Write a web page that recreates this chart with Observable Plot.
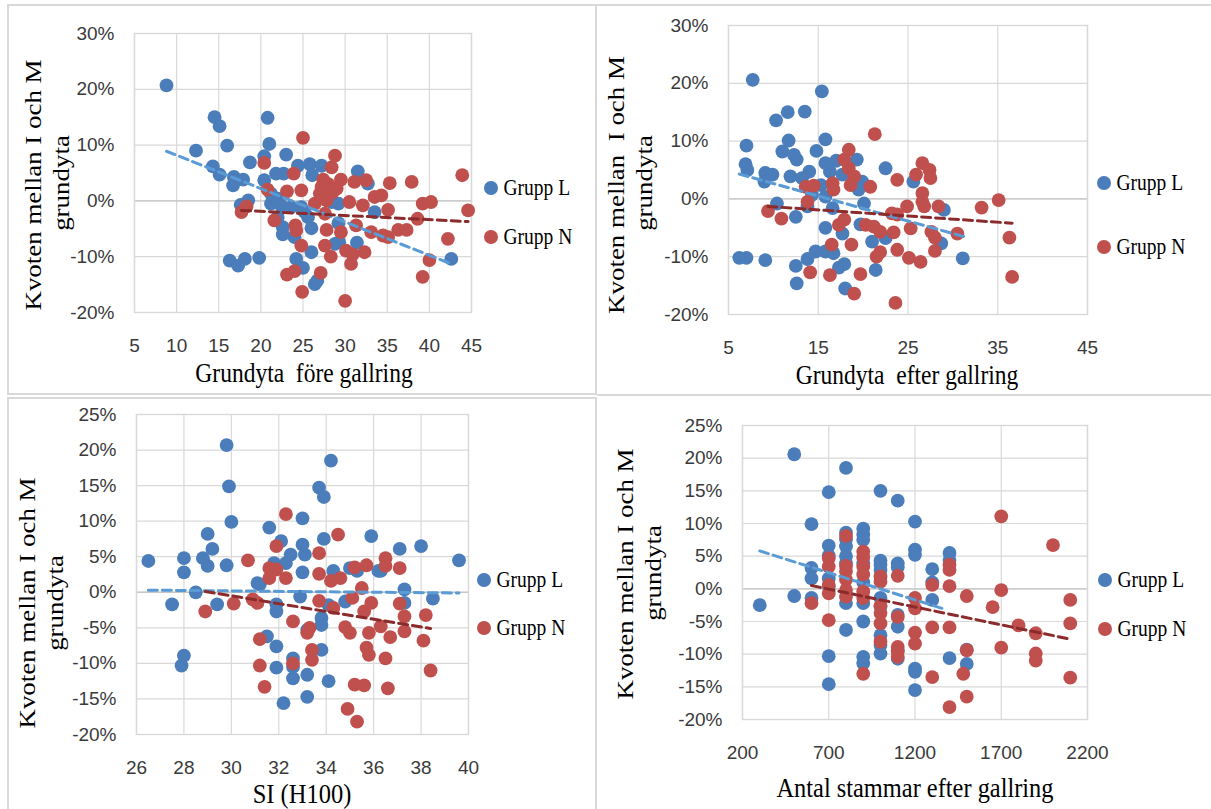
<!DOCTYPE html>
<html>
<head>
<meta charset="utf-8">
<script src="https://cdn.jsdelivr.net/npm/d3@7"></script>
<script src="https://cdn.jsdelivr.net/npm/@observablehq/plot@0.6"></script>
<style>
  body { margin: 0; background: #fff; }
  #root { position: relative; width: 1211px; height: 809px; overflow: hidden; background: #fff; }
  .abs { position: absolute; }
  .serif { font-family: "Liberation Serif", "Times New Roman", serif; color: #000; white-space: pre; line-height: 1; }
  .border { position: absolute; box-sizing: border-box; border: 2px solid #d9d9d9; }
  .hline { position: absolute; height: 2px; background: #d9d9d9; }
</style>
</head>
<body>
<div id="root"></div>
<script>
// ---------- DATA (y in percent) ----------
const seriesNames = ["Grupp L", "Grupp N"];
const yLabelLines = ["Kvoten mellan I och M", "grundyta"];

// Panel 1: Grundyta före gallring
const p1Blue = [[8.8,20.7],[14.5,15.0],[15.1,13.4],[20.8,14.9],[12.3,9.0],[16.0,9.9],[21.0,10.2],[18.7,6.9],[20.4,8.0],[23.0,8.3],
  [14.3,6.2],[15.1,4.7],[16.8,4.3],[17.9,3.8],[16.7,2.8],[20.4,3.7],[21.8,4.9],[22.7,4.9],[24.4,6.3],[25.8,6.6],
  [27.2,6.3],[26.1,4.6],[31.5,5.3],[32.7,3.1],[18.5,0.1],[17.6,-0.7],[21.2,-0.5],[22.4,-0.8],[22.0,-2.9],[22.6,-4.7],
  [22.6,-6.0],[24.0,-6.5],[26.0,-4.9],[25.2,-2.0],[29.2,-0.5],[29.2,-4.0],[29.3,-7.4],[31.4,-7.5],[33.5,-2.0],[16.3,-10.7],
  [17.3,-11.6],[18.1,-10.4],[19.8,-10.2],[24.2,-10.4],[25.0,-12.0],[26.0,-9.2],[26.4,-14.9],[26.7,-14.3],[42.6,-10.4],[21.2,1.3],
  [22.0,0.4],[23.6,-1.1],[24.8,-1.1],[25.6,-2.9],[28.4,-0.2],[28.8,-7.7]];
const p1Red = [[25.0,11.3],[28.8,8.1],[20.4,6.8],[28.4,6.0],[23.9,4.9],[27.4,3.8],[29.5,3.8],[31.1,3.4],[32.5,3.7],[35.3,3.2],
  [37.9,3.4],[43.9,4.6],[20.8,2.0],[23.1,1.7],[24.8,1.9],[27.2,2.5],[27.8,0.1],[26.4,-0.5],[30.5,-0.2],[32.1,-0.8],
  [33.5,0.7],[34.3,1.0],[35.1,-1.6],[39.2,-0.5],[40.2,-0.2],[44.6,-1.7],[17.7,-2.0],[18.3,-1.0],[21.6,-3.5],[24.1,-4.4],
  [24.2,-5.3],[27.8,-5.2],[29.5,-5.6],[31.3,-4.4],[33.1,-5.6],[34.5,-6.2],[35.1,-6.5],[36.3,-5.2],[37.3,-5.2],[38.6,-3.2],
  [42.2,-6.8],[24.8,-8.0],[27.6,-8.0],[28.3,-10.0],[30.1,-8.9],[30.9,-9.6],[32.3,-9.2],[30.7,-11.3],[40.0,-10.6],[39.2,-13.6],
  [23.1,-13.2],[24.0,-12.6],[27.1,-12.9],[24.9,-16.3],[30.0,-17.9],[27.0,1.3],[27.6,-2.3],[28.0,3.0],[28.5,1.5],[29.0,2.2]];
const p1BlueTrend = [[8.8,8.9],[42.6,-11.3]];
const p1RedTrend = [[17.7,-1.7],[44.6,-3.7]];

// Panel 2: Grundyta efter gallring
const p2Blue = [[7.7,20.6],[15.4,18.6],[10.3,13.6],[11.6,15.0],[13.5,15.1],[7.0,9.2],[15.8,10.3],[11.7,10.1],[11.0,8.2],[12.3,7.6],
  [12.6,6.8],[14.8,8.3],[6.9,6.0],[7.1,5.0],[9.1,4.5],[9.9,4.2],[9.0,3.0],[11.9,3.9],[14.0,4.7],[13.2,3.6],
  [15.8,6.2],[17.0,6.6],[19.3,6.8],[22.5,5.3],[16.3,4.7],[17.7,4.2],[19.9,3.0],[15.3,2.4],[25.6,3.0],[10.4,-0.8],
  [12.5,-3.1],[13.8,-1.3],[15.8,0.4],[16.6,-1.6],[20.1,-0.8],[15.8,-5.0],[17.7,-6.0],[19.7,-4.4],[21.0,-7.4],[22.5,-6.8],
  [29.0,-1.9],[28.7,-7.7],[6.2,-10.2],[7.0,-10.2],[9.1,-10.6],[12.5,-11.6],[13.8,-10.4],[14.7,-9.1],[15.8,-9.1],[16.7,-9.4],
  [17.3,-11.9],[17.9,-11.3],[21.4,-12.3],[12.6,-14.6],[18.0,-15.5],[31.1,-10.3],[19.5,1.6],[14.3,0.7]];
const p2Red = [[21.3,11.2],[18.4,8.5],[17.9,6.8],[18.4,5.3],[19.0,3.9],[18.6,2.4],[20.8,2.1],[23.8,3.3],[16.6,2.7],[16.7,1.6],
  [13.6,2.1],[14.5,2.3],[13.8,-0.5],[26.6,6.2],[27.4,5.0],[27.5,3.6],[25.9,4.2],[26.6,1.0],[26.6,-0.5],[26.8,-1.3],
  [24.9,-1.3],[23.2,-2.5],[23.8,-2.7],[28.4,-1.3],[33.2,-1.5],[35.1,-0.2],[9.4,-2.1],[10.9,-3.4],[17.3,-4.5],[17.9,-3.6],
  [20.3,-4.5],[21.2,-4.8],[21.9,-5.7],[23.4,-5.8],[25.3,-5.1],[27.6,-5.7],[28.0,-6.7],[30.5,-6.0],[36.3,-6.7],[16.5,-7.9],
  [18.7,-7.9],[21.5,-10.0],[21.9,-9.2],[23.8,-8.8],[25.1,-10.2],[26.4,-10.9],[28.0,-9.0],[14.1,-12.7],[16.3,-13.2],[19.7,-13.0],
  [19.0,-16.4],[23.6,-18.0],[36.6,-13.5]];
const p2BlueTrend = [[6.2,4.3],[31.2,-6.5]];
const p2RedTrend = [[9.4,-1.3],[36.6,-4.2]];

// Panel 3: SI (H100)
const p3Blue = [[26.5,4.4],[27.5,-1.7],[28.0,4.8],[28.0,2.8],[27.9,-10.3],[28.0,-8.9],[28.5,0.0],[28.8,4.8],[29.0,8.2],[29.2,6.1],
  [29.0,3.7],[29.4,-1.7],[29.8,3.8],[29.8,20.7],[29.9,14.9],[30.0,9.9],[31.1,1.3],[31.2,1.1],[31.6,9.1],[32.1,7.2],
  [32.3,4.1],[32.5,5.3],[31.8,4.1],[31.9,-1.7],[31.9,-2.7],[31.5,-6.2],[31.9,-7.6],[31.9,-10.6],[32.6,-9.3],[32.6,-12.1],
  [32.2,-15.6],[33.0,10.4],[33.0,6.7],[33.1,5.3],[33.0,2.8],[32.9,-0.6],[33.2,-5.3],[33.2,-11.6],[33.2,-14.7],[33.7,14.7],
  [33.9,13.4],[33.9,7.5],[34.2,18.5],[33.8,-8.1],[33.8,-3.6],[33.8,-4.6],[34.1,-12.5],[34.3,3.0],[34.8,-1.3],[35.0,3.4],
  [35.3,3.0],[35.9,7.9],[36.2,3.0],[36.3,3.0],[37.1,6.1],[37.3,0.4],[37.3,-1.5],[38.0,6.5],[38.5,-0.9],[39.6,4.5],
  [34.1,-1.8],[32.6,-10.5]];
const p3Red = [[30.7,4.5],[28.9,-2.7],[30.1,-1.6],[30.9,-1.0],[31.1,-1.5],[31.2,-6.6],[31.2,-10.3],[31.4,-13.3],[31.6,3.4],[31.6,2.0],
  [31.9,3.2],[31.9,6.5],[32.3,11.0],[32.3,2.0],[32.6,-4.1],[32.6,-10.0],[33.2,-5.7],[33.3,-5.0],[33.4,-8.1],[33.4,-9.5],
  [33.7,5.5],[33.7,2.6],[33.7,-1.2],[34.2,1.6],[34.5,8.1],[34.3,-2.2],[34.6,2.0],[34.8,-4.9],[35.0,-5.7],[35.2,3.5],
  [35.7,3.8],[35.5,0.6],[35.1,-0.8],[35.6,-2.7],[35.9,-1.5],[35.8,-5.7],[35.7,-7.8],[35.8,-8.8],[36.3,-4.8],[36.5,4.8],
  [36.5,3.7],[36.5,-9.3],[36.6,-13.5],[37.1,3.4],[37.1,-1.6],[37.3,-3.4],[37.3,-5.5],[36.7,-6.3],[38.1,-6.8],[38.2,-3.2],
  [38.4,-11.0],[35.2,-13.0],[35.6,-13.1],[34.9,-16.4],[35.3,-18.2]];
const p3BlueTrend = [[26.5,0.3],[39.6,-0.1]];
const p3RedTrend = [[28.9,0.1],[38.4,-5.1]];

// Panel 4: Antal stammar efter gallring
const p4Blue = [[300,-2.5],[500,20.6],[500,-1.1],[600,9.9],[600,3.2],[600,1.6],[600,-1.4],[700,14.8],[700,6.6],[700,5.1],
  [700,1.6],[700,0.4],[700,-10.3],[700,-14.6],[800,18.5],[800,8.6],[800,7.6],[800,6.5],[800,5.0],[800,3.9],
  [800,-2.2],[800,-6.3],[900,9.2],[900,8.3],[900,7.5],[900,3.9],[900,1.0],[900,-2.2],[900,-5.0],[900,-10.4],
  [900,-11.4],[1000,15.0],[1000,4.3],[1000,3.7],[1000,2.9],[1000,-1.4],[1000,-2.7],[1000,-7.1],[1000,-8.6],[1000,-9.9],
  [1100,13.5],[1100,3.9],[1100,3.3],[1100,-4.0],[1100,-5.8],[1100,-9.4],[1100,-10.7],[1200,10.3],[1200,6.0],[1200,5.2],
  [1200,-12.2],[1200,-12.7],[1200,-15.5],[1300,3.0],[1300,1.0],[1300,-1.7],[1400,5.5],[1400,4.4],[1400,-10.6],[1500,-9.3],
  [1500,-11.5]];
const p4Red = [[600,-2.2],[700,4.7],[700,3.4],[700,0.6],[700,-0.7],[700,-4.8],[800,8.1],[800,3.5],[800,2.7],[800,1.4],
  [800,-0.2],[800,-1.2],[900,5.7],[900,4.8],[900,3.4],[900,2.2],[900,-0.4],[900,-1.4],[900,-13.0],[1000,1.9],
  [1000,1.1],[1000,-2.6],[1000,-3.7],[1000,-5.3],[1000,-8.1],[1100,2.0],[1100,-4.3],[1100,-8.9],[1100,-9.6],[1100,-10.4],
  [1200,-1.4],[1200,-3.0],[1200,-6.7],[1200,-8.4],[1300,0.6],[1300,-5.9],[1300,-13.5],[1400,3.7],[1400,2.9],[1400,0.4],
  [1400,-5.9],[1400,-18.1],[1480,-13.0],[1500,-1.1],[1500,-9.4],[1500,-16.5],[1650,-2.8],[1700,11.1],[1700,-0.2],[1700,-9.0],
  [1800,-5.6],[1900,-6.8],[1900,-9.9],[1900,-11.0],[2000,6.7],[2100,-1.7],[2100,-5.3],[2100,-13.6]];
const p4BlueTrend = [[300,5.8],[1370,-3.1]];
const p4RedTrend = [[600,0.5],[2100,-7.7]];

// Tick values
const xTicks1 = [5,10,15,20,25,30,35,40,45];
const xTicks2 = [5,15,25,35,45];
const xTicks3 = [26,28,30,32,34,36,38,40];
const xTicks4 = [200,700,1200,1700,2200];
const yTicksTop = [-20,-10,0,10,20,30];
const yTicksBottom = [-20,-15,-10,-5,0,5,10,15,20,25];

// ---------- STYLE / LAYOUT ----------
const BLUE = "#4a7dba", RED = "#c0504d", BLUE_TREND = "#5b9bd5", RED_TREND = "#8b2b2b";
const GRID = "#d9d9d9";
const DOT_R = 6.9;

const panels = [
  { frame:{l:134,r:471,t:33,b:312}, xDomain:[5,45], xTicks:xTicks1, yDomain:[-20,30], yTicks:yTicksTop,
    blue:p1Blue, red:p1Red, blueTrend:p1BlueTrend, redTrend:p1RedTrend,
    xTitle:"Grundyta  före gallring", xTitlePos:[304,374], xTitleSize:23.5,
    yLab1:"Kvoten mellan I och M", yLabPos:[[33,185],[61,183]],
    legend:{x:491, yL:188, yN:237} },
  { frame:{l:728,r:1087,t:25,b:314}, xDomain:[5,45], xTicks:xTicks2, yDomain:[-20,30], yTicks:yTicksTop,
    blue:p2Blue, red:p2Red, blueTrend:p2BlueTrend, redTrend:p2RedTrend,
    xTitle:"Grundyta  efter gallring", xTitlePos:[907,376], xTitleSize:23.5,
    yLab1:"Kvoten mellan  I och M", yLabPos:[[616,185],[644,183]],
    legend:{x:1104, yL:183, yN:247} },
  { frame:{l:136,r:468,t:414,b:734}, xDomain:[26,40], xTicks:xTicks3, yDomain:[-20,25], yTicks:yTicksBottom,
    blue:p3Blue, red:p3Red, blueTrend:p3BlueTrend, redTrend:p3RedTrend,
    xTitle:"SI (H100)", xTitlePos:[302,794], xTitleSize:24.5,
    yLab1:"Kvoten mellan I och M", yLabPos:[[27,603],[55,603]],
    legend:{x:484, yL:580, yN:628} },
  { frame:{l:742,r:1087,t:425,b:719}, xDomain:[200,2200], xTicks:xTicks4, yDomain:[-20,25], yTicks:yTicksBottom,
    blue:p4Blue, red:p4Red, blueTrend:p4BlueTrend, redTrend:p4RedTrend,
    xTitle:"Antal stammar efter gallring", xTitlePos:[915,788], xTitleSize:24.4,
    yLab1:"Kvoten mellan I och M", yLabPos:[[625,574],[653,573]],
    legend:{x:1105, yL:580, yN:629} }
];

const root = document.getElementById("root");

function addDiv(cls, css, text) {
  const d = document.createElement("div");
  d.className = cls;
  Object.assign(d.style, css);
  if (text != null) d.textContent = text;
  root.appendChild(d);
  return d;
}

// panel borders
addDiv("border", {left:"7px", top:"4px", width:"590px", height:"391px"});
addDiv("hline", {left:"597px", top:"4px", width:"614px"});
addDiv("hline", {left:"597px", top:"394px", width:"614px"});
addDiv("border", {left:"7px", top:"397px", width:"590px", height:"430px"});

const ml = 80, mr = 20, mt = 20, mb = 50;
const X = d => d[0], Y = d => d[1];

for (const p of panels) {
  const f = p.frame;
  const chart = Plot.plot({
    width: (f.r - f.l) + ml + mr,
    height: (f.b - f.t) + mt + mb,
    marginLeft: ml, marginRight: mr, marginTop: mt, marginBottom: mb,
    style: { fontFamily: '"Liberation Sans", Arial, sans-serif', fontSize: "19px", color: "#3a3a3a", background: "transparent", overflow: "visible" },
    x: { domain: p.xDomain },
    y: { domain: p.yDomain },
    marks: [
      Plot.gridX(p.xTicks, { stroke: GRID, strokeOpacity: 1, strokeWidth: 1.2 }),
      Plot.gridY(p.yTicks, { stroke: GRID, strokeOpacity: 1, strokeWidth: 1.2 }),
      Plot.ruleY([0], { stroke: "#c6c6c6", strokeWidth: 1.4 }),
      Plot.frame({ stroke: GRID, strokeWidth: 1.4 }),
      Plot.axisX(p.xTicks, { tickSize: 0, tickPadding: 26, label: null, fontSize: 19, tickFormat: d => String(d) }),
      Plot.axisY(p.yTicks, { tickSize: 0, tickPadding: 20, label: null, fontSize: 19, tickFormat: d => d + "%" }),
      Plot.dot(p.blue, { x: X, y: Y, r: DOT_R, fill: BLUE }),
      Plot.dot(p.red, { x: X, y: Y, r: DOT_R, fill: RED }),
      Plot.line(p.blueTrend, { x: X, y: Y, stroke: BLUE_TREND, strokeWidth: 3, strokeDasharray: "9,5" }),
      Plot.line(p.redTrend, { x: X, y: Y, stroke: RED_TREND, strokeWidth: 3, strokeDasharray: "9,5" })
    ]
  });
  chart.style.position = "absolute";
  chart.style.left = (f.l - ml) + "px";
  chart.style.top = (f.t - mt) + "px";
  root.appendChild(chart);

  // x-axis title
  addDiv("abs serif", {
    left: p.xTitlePos[0] + "px", top: p.xTitlePos[1] + "px",
    fontSize: p.xTitleSize + "px",
    transform: "translate(-50%,-50%) scaleY(1.15)"
  }, p.xTitle);

  // y-axis title (two lines, rotated)
  [p.yLab1, yLabelLines[1]].forEach((t, i) => {
    addDiv("abs serif", {
      left: p.yLabPos[i][0] + "px", top: p.yLabPos[i][1] + "px",
      fontSize: "23px",
      transform: "translate(-50%,-50%) rotate(-90deg) scaleX(1.17)"
    }, t);
  });

  // legend
  [[p.legend.yL, BLUE, seriesNames[0]], [p.legend.yN, RED, seriesNames[1]]].forEach(([y, c, name]) => {
    addDiv("abs", {
      left: (p.legend.x - DOT_R) + "px", top: (y - DOT_R) + "px",
      width: (2 * DOT_R) + "px", height: (2 * DOT_R) + "px", borderRadius: "50%", background: c
    });
    addDiv("abs serif", {
      left: (p.legend.x + 12.5) + "px", top: y + "px",
      fontSize: "19.5px",
      transformOrigin: "0 50%",
      transform: "translate(0,-50%) scaleY(1.15)"
    }, name);
  });
}
</script>
</body>
</html>
